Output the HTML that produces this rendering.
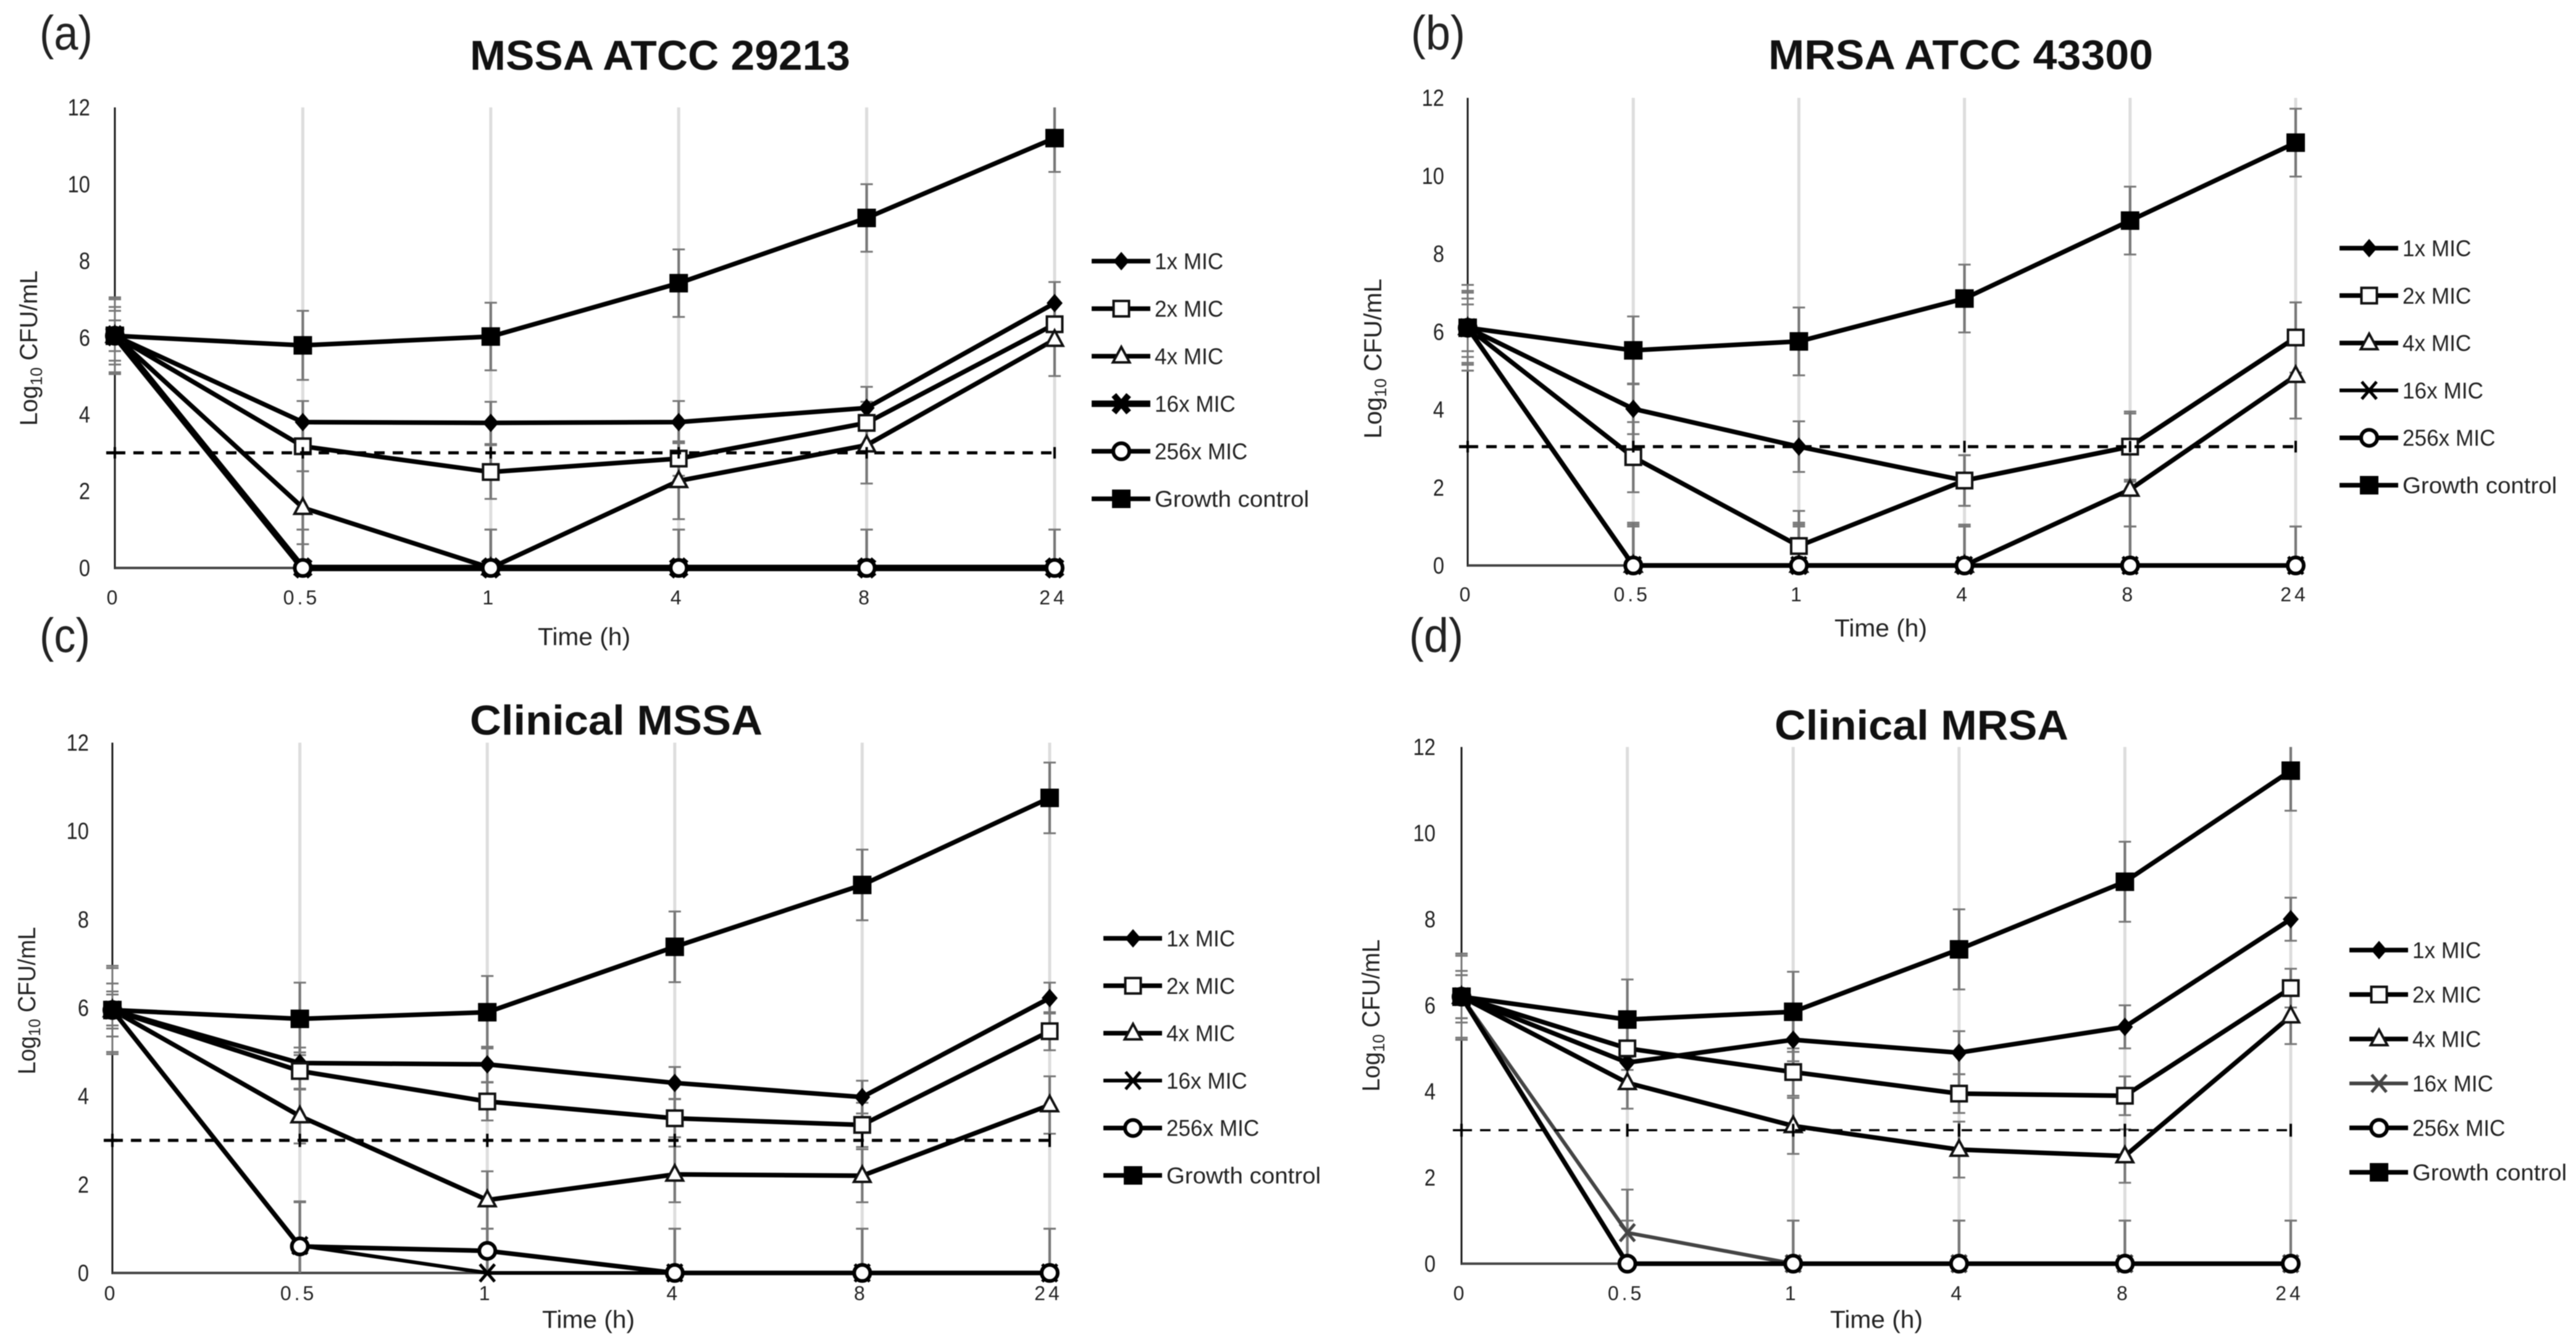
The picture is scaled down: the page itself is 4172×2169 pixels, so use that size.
<!DOCTYPE html>
<html lang="en">
<head>
<meta charset="utf-8">
<title>Time-kill curves</title>
<style>
html,body{margin:0;padding:0;background:#fff;}
svg{display:block;filter:blur(0.9px);}
text{font-family:"Liberation Sans",sans-serif;fill:#222;}
</style>
</head>
<body>
<svg id="figure" xmlns="http://www.w3.org/2000/svg" width="4172" height="2169" viewBox="0 0 4172 2169">
  <rect x="0" y="0" width="4172" height="2169" fill="#ffffff"/>

  <text x="64" y="80" font-size="78" textLength="86" lengthAdjust="spacingAndGlyphs">(a)</text>
  <text x="2285" y="80" font-size="78" textLength="88" lengthAdjust="spacingAndGlyphs">(b)</text>
  <text x="64" y="1056" font-size="78" textLength="82" lengthAdjust="spacingAndGlyphs">(c)</text>
  <text x="2282" y="1056" font-size="78" textLength="88" lengthAdjust="spacingAndGlyphs">(d)</text>

  <text x="761" y="113" font-size="68" font-weight="700" style="fill:#111" textLength="616" lengthAdjust="spacingAndGlyphs">MSSA ATCC 29213</text>
  <text x="2864" y="112" font-size="68" font-weight="700" style="fill:#111" textLength="623" lengthAdjust="spacingAndGlyphs">MRSA ATCC 43300</text>
  <text x="761" y="1190" font-size="68" font-weight="700" style="fill:#111" textLength="474" lengthAdjust="spacingAndGlyphs">Clinical MSSA</text>
  <text x="2874" y="1198" font-size="68" font-weight="700" style="fill:#111" textLength="476" lengthAdjust="spacingAndGlyphs">Clinical MRSA</text>

  <text x="871" y="1045" font-size="40" textLength="150" lengthAdjust="spacingAndGlyphs">Time (h)</text>
  <text x="2971" y="1031" font-size="40" textLength="150" lengthAdjust="spacingAndGlyphs">Time (h)</text>
  <text x="878" y="2151" font-size="40" textLength="150" lengthAdjust="spacingAndGlyphs">Time (h)</text>
  <text x="2964" y="2151" font-size="40" textLength="150" lengthAdjust="spacingAndGlyphs">Time (h)</text>

  <text text-anchor="middle" font-size="40" transform="translate(60,564) rotate(-90) scale(0.98,1)">Log<tspan font-size="27" dy="8">10</tspan><tspan dy="-8">  CFU/mL</tspan></text>
  <text text-anchor="middle" font-size="40" transform="translate(2237,581) rotate(-90) scale(1.01,1)">Log<tspan font-size="27" dy="8">10</tspan><tspan dy="-8">  CFU/mL</tspan></text>
  <text text-anchor="middle" font-size="40" transform="translate(57,1621) rotate(-90) scale(0.93,1)">Log<tspan font-size="27" dy="8">10</tspan><tspan dy="-8"> CFU/mL</tspan></text>
  <text text-anchor="middle" font-size="40" transform="translate(2234,1645) rotate(-90) scale(0.96,1)">Log<tspan font-size="27" dy="8">10</tspan><tspan dy="-8">  CFU/mL</tspan></text>
</svg>

<script>
// Shared axis content
const categories = ['0', '0.5', '1', '4', '8', '24'];
const yTicks = [0, 2, 4, 6, 8, 10, 12];
const seriesNames = ['1x MIC', '2x MIC', '4x MIC', '16x MIC', '256x MIC', 'Growth control'];

// Panel (a) MSSA ATCC 29213
const a1x = [6.05, 3.8, 3.78, 3.8, 4.17, 6.9];
const a2x = [6.05, 3.17, 2.5, 2.85, 3.78, 6.35];
const a4x = [6.05, 1.57, 0, 2.27, 3.2, 5.95];
const a16x = [6.05, 0, 0, 0, 0, 0];
const a256x = [6.05, 0, 0, 0, 0, 0];
const aGrowth = [6.05, 5.8, 6.03, 7.42, 9.12, 11.2];
const aLimit = [3, 3, 3, 3, 3, 3];
const aErr1x = [0.4, 0.55, 0.55, 0.55, 0.55, 0.55];
const aErr2x = [0.65, 0.65, 0.7, 0.45, 0.55, 0.55];
const aErr4x = [0.75, 0.95, 1, 1, 1, 0.95];
const aErr16x = [1, 1, 1, 1, 1, 1];
const aErr256x = [0.95, 1, 1, 1, 1, 1];
const aErrGrowth = [1, 0.9, 0.88, 0.88, 0.88, 0.88];

// Panel (b) MRSA ATCC 43300
const b1x = [6.1, 4.02, 3.05, 2.18, 3.05, 5.85];
const b2x = [6.1, 2.78, 0.5, 2.18, 3.05, 5.85];
const b4x = [6.1, 0, 0, 0, 1.95, 4.87];
const b16x = [6.1, 0, 0, 0, 0, 0];
const b256x = [6.1, 0, 0, 0, 0, 0];
const bGrowth = [6.1, 5.52, 5.75, 6.85, 8.85, 10.85];
const bLimit = [3.05, 3.05, 3.05, 3.05, 3.05, 3.05];
const bErr1x = [0.6, 0.65, 0.65, 0.65, 0.85, 0.9];
const bErr2x = [0.9, 0.9, 0.9, 0.65, 0.9, 0.9];
const bErr4x = [0.75, 1.05, 1.05, 1.05, 0.95, 1.1];
const bErr16x = [1.1, 1, 1, 1, 1, 1];
const bErr256x = [0.95, 1.1, 1.1, 1, 1, 1];
const bErrGrowth = [1.1, 0.87, 0.87, 0.87, 0.87, 0.87];

// Panel (c) Clinical MSSA
const c1x = [5.95, 4.75, 4.72, 4.3, 3.98, 6.22];
const c2x = [5.95, 4.57, 3.88, 3.5, 3.35, 5.47];
const c4x = [5.95, 3.55, 1.65, 2.23, 2.2, 3.8];
const c16x = [5.95, 0.62, 0, 0, 0, 0];
const c256x = [5.95, 0.6, 0.5, 0, 0, 0];
const cGrowth = [5.95, 5.75, 5.9, 7.38, 8.78, 10.75];
const cLimit = [3, 3, 3, 3, 3, 3];
const cErr1x = [0.35, 0.35, 0.4, 0.36, 0.37, 0.35];
const cErr2x = [0.42, 0.42, 0.43, 0.43, 0.5, 0.43];
const cErr4x = [0.6, 0.62, 0.65, 0.63, 0.6, 0.65];
const cErr16x = [1, 1, 1, 1, 1, 1];
const cErr256x = [0.95, 1, 0.5, 1, 1, 1];
const cErrGrowth = [0.95, 0.82, 0.82, 0.8, 0.8, 0.8];

// Panel (d) Clinical MRSA
const d1x = [6.2, 4.67, 5.2, 4.9, 5.5, 8];
const d2x = [6.2, 5, 4.45, 3.95, 3.9, 6.4];
const d4x = [6.2, 4.2, 3.2, 2.65, 2.5, 5.75];
const d16x = [6.2, 0.72, 0, 0, 0, 0];
const d256x = [6.2, 0, 0, 0, 0, 0];
const dGrowth = [6.2, 5.67, 5.85, 7.3, 8.87, 11.45];
const dLimit = [3.1, 3.1, 3.1, 3.1, 3.1, 3.1];
const dErr1x = [0.5, 0.5, 0.5, 0.5, 0.5, 0.5];
const dErr2x = [0.5, 0.5, 0.55, 0.45, 0.45, 0.45];
const dErr4x = [0.6, 0.6, 0.65, 0.65, 0.62, 0.65];
const dErr16x = [1, 1, 1, 1, 1, 1];
const dErr256x = [0.95, 1, 1, 1, 1, 1];
const dErrGrowth = [1, 0.93, 0.93, 0.93, 0.93, 0.93];

// Layout of each panel, kept apart from the data
const panels = [
  { id: 'a', x0: 186, dx: 304.4, y0: 920, yTop: 174, yLabelRight: 146, xLabelDy: 59,
    legendLine: 1768, legendY: 423, legendStep: 77, dashW: 5,
    mark16: 10, color16: '#000', line16: 10.5, values: [a1x, a2x, a4x, a16x, a256x, aGrowth], errs: [aErr1x, aErr2x, aErr4x, aErr16x, aErr256x, aErrGrowth], limit: aLimit },
  { id: 'b', x0: 2377, dx: 268.2, y0: 916, yTop: 158.5, yLabelRight: 2339, xLabelDy: 58,
    legendLine: 3789, legendY: 402, legendStep: 76.8, dashW: 5,
    mark16: 5, color16: '#000', line16: 6, values: [b1x, b2x, b4x, b16x, b256x, bGrowth], errs: [bErr1x, bErr2x, bErr4x, bErr16x, bErr256x, bErrGrowth], limit: bLimit },
  { id: 'c', x0: 182, dx: 303.6, y0: 2062, yTop: 1203, yLabelRight: 144, xLabelDy: 44,
    legendLine: 1787, legendY: 1520, legendStep: 76.8, dashW: 5,
    mark16: 5, color16: '#000', line16: 6, values: [c1x, c2x, c4x, c16x, c256x, cGrowth], errs: [cErr1x, cErr2x, cErr4x, cErr16x, cErr256x, cErrGrowth], limit: cLimit },
  { id: 'd', x0: 2367, dx: 268.6, y0: 2047, yTop: 1210, yLabelRight: 2325, xLabelDy: 59,
    legendLine: 3805, legendY: 1539, legendStep: 72, dashW: 3.5,
    mark16: 5, color16: '#444', line16: 6, values: [d1x, d2x, d4x, d16x, d256x, dGrowth], errs: [dErr1x, dErr2x, dErr4x, dErr16x, dErr256x, dErrGrowth], limit: dLimit }
];

const NS = 'http://www.w3.org/2000/svg';
const figure = document.getElementById('figure');

function make(tag, attrs, parent) {
  const node = document.createElementNS(NS, tag);
  for (const key in attrs) node.setAttribute(key, attrs[key]);
  parent.appendChild(node);
  return node;
}

function narrow(label, factor) {
  const natural = label.getComputedTextLength();
  label.setAttribute('textLength', natural * factor);
  label.setAttribute('lengthAdjust', 'spacingAndGlyphs');
}

function drawMarker(parent, seriesIndex, cx, cy, panel) {
  const g = make('g', {}, parent);
  
  
  if (seriesIndex === 0) {
    make('polygon', { points: [cx, cy - 15, cx + 13, cy, cx, cy + 15, cx - 13, cy].join(' '), fill: '#000' }, g);
  } else if (seriesIndex === 1) {
    make('rect', { x: cx - 12.5, y: cy - 12.5, width: 25, height: 25, fill: '#fff', stroke: '#111', 'stroke-width': 4 }, g);
  } else if (seriesIndex === 2) {
    make('polygon', { points: [cx, cy - 15, cx + 13.5, cy + 10, cx - 13.5, cy + 10].join(' '), fill: '#fff', stroke: '#111', 'stroke-width': 4 }, g);
  } else if (seriesIndex === 3) {
    make('path', { d: 'M' + (cx - 12) + ' ' + (cy - 14) + 'L' + (cx + 12) + ' ' + (cy + 14) + 'M' + (cx + 12) + ' ' + (cy - 14) + 'L' + (cx - 12) + ' ' + (cy + 14), fill: 'none', stroke: panel.color16, 'stroke-width': panel.mark16 }, g);
  } else if (seriesIndex === 4) {
    make('circle', { cx: cx, cy: cy, r: 13, fill: '#fff', stroke: '#000', 'stroke-width': 6 }, g);
  } else {
    make('rect', { x: cx - 15, y: cy - 15, width: 30, height: 30, fill: '#000' }, g);
  }
}

function drawPanel(panel) {
  const xScale = function (i) { return panel.x0 + i * panel.dx; };
  const yScale = function (v) { return panel.y0 - v * (panel.y0 - panel.yTop) / 12; };
  const root = make('g', {}, figure);
  
  

  // vertical gridlines
  categories.forEach(function (c, i) {
    if (i === 0) return;
    const grid = make('line', { x1: xScale(i), x2: xScale(i), y1: yScale(12), y2: yScale(0), stroke: '#dddddd', 'stroke-width': 5 }, root);
    
    
  });

  // axes
  const yAxis = make('line', { x1: xScale(0), x2: xScale(0), y1: yScale(12), y2: yScale(0) + 2, stroke: '#1a1a1a', 'stroke-width': 3 }, root);
  
  
  const xAxis = make('line', { x1: xScale(0), x2: xScale(5), y1: yScale(0), y2: yScale(0), stroke: '#444444', 'stroke-width': 4 }, root);
  
  

  // tick labels
  yTicks.forEach(function (t) {
    const label = make('text', { x: panel.yLabelRight, y: yScale(t) + 13, 'text-anchor': 'end', 'font-size': 38 }, root);
    label.textContent = t;
    narrow(label, 0.86);
    
    
  });
  categories.forEach(function (c, i) {
    const label = make('text', { x: xScale(i) - 2, y: panel.y0 + panel.xLabelDy, 'text-anchor': 'middle', 'font-size': 32, 'letter-spacing': 5 }, root);
    label.textContent = c;
    
    
  });

  // error bars
  panel.errs.forEach(function (errs, s) {
    errs.forEach(function (e, i) {
      const v = panel.values[s][i];
      const hi = Math.min(12, v + e);
      const lo = Math.max(0, v - e);
      const cx = xScale(i);
      const stem = make('line', { x1: cx, x2: cx, y1: yScale(hi), y2: yScale(lo), stroke: '#777777', 'stroke-width': i === 0 ? 3 : 4 }, root);
      
      
      [hi, lo].forEach(function (cap) {
        if (cap <= 0 || cap >= 12) return;
        const tick = make('line', { x1: cx - 10, x2: cx + 10, y1: yScale(cap), y2: yScale(cap), stroke: '#777777', 'stroke-width': 3 }, root);
        
        
      });
    });
  });

  // series lines and markers
  panel.values.forEach(function (vals, s) {
    const pts = vals.map(function (v, i) { return xScale(i) + ',' + yScale(v); }).join(' ');
    const line = make('polyline', { points: pts, fill: 'none', stroke: s === 3 ? panel.color16 : '#000', 'stroke-width': s === 3 ? panel.line16 : 7.5, 'stroke-linejoin': 'round' }, root);
    
    
    vals.forEach(function (v, i) {
      drawMarker(root, s, xScale(i), yScale(v), panel);
    });
  });

  // detection-limit dashed line with small cross ticks
  const limitPts = panel.limit.map(function (v, i) { return xScale(i) + ',' + yScale(v); }).join(' ');
  const limitLine = make('polyline', { points: limitPts, fill: 'none', stroke: '#000', 'stroke-width': panel.dashW, 'stroke-dasharray': '17 13' }, root);
  
  
  panel.limit.forEach(function (v, i) {
    const cross = make('line', { x1: xScale(i), x2: xScale(i), y1: yScale(v + 0.15), y2: yScale(v - 0.15), stroke: '#000', 'stroke-width': 4 }, root);
    
    
  });
  const limitStub = make('line', { x1: xScale(0) - 14, x2: xScale(0) + 8, y1: yScale(panel.limit[0]), y2: yScale(panel.limit[0]), stroke: '#000', 'stroke-width': panel.dashW }, root);
  
  

  // legend
  const legend = make('g', {}, root);
  
  
  seriesNames.forEach(function (name, s) {
    const ly = panel.legendY + s * panel.legendStep;
    const entry = make('g', {}, legend);
    
    
    make('line', { x1: panel.legendLine, x2: panel.legendLine + 95, y1: ly, y2: ly, stroke: s === 3 ? panel.color16 : '#000', 'stroke-width': s === 3 ? panel.line16 : 7.5 }, entry);
    drawMarker(entry, s, panel.legendLine + 48, ly, panel);
    const label = make('text', { x: panel.legendLine + 102, y: ly + 13, 'font-size': 37 }, entry);
    label.textContent = name;
    narrow(label, name.length > 8 ? 1.04 : 0.95);
    
    
  });
}

panels.forEach(drawPanel);
</script>
</body>
</html>
